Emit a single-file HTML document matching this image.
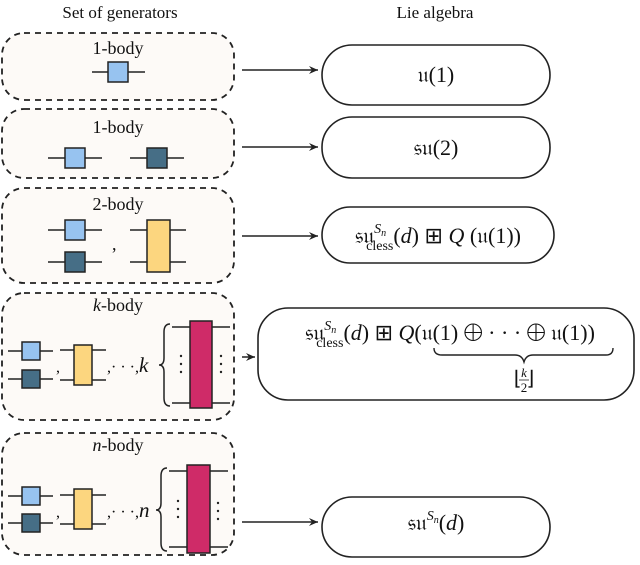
<!DOCTYPE html>
<html><head><style>body{margin:0;background:#fff}svg{display:block}text{font-family:"Liberation Serif",serif;fill:#111}</style></head><body>
<svg width="640" height="565" viewBox="0 0 640 565" xmlns="http://www.w3.org/2000/svg">
<defs><marker id="a" markerWidth="10" markerHeight="8" refX="9" refY="4" orient="auto" markerUnits="userSpaceOnUse"><path d="M0,0 L9,4 L0,8 L3,4z" fill="#222"/></marker></defs>
<text x="120" y="18" font-size="17" text-anchor="middle">Set of generators</text>
<text x="435" y="18" font-size="17" text-anchor="middle">Lie algebra</text>
<g fill="#fdfaf7" stroke="#222" stroke-width="1.8" stroke-dasharray="6,5">
<rect x="2" y="33" width="232" height="67" rx="22"/>
<rect x="2" y="109" width="232" height="69" rx="22"/>
<rect x="2" y="188" width="232" height="95" rx="22"/>
<rect x="2" y="293" width="232" height="127" rx="22"/>
<rect x="2" y="433" width="232" height="122" rx="22"/>
</g>
<g font-size="18" text-anchor="middle">
<text x="118" y="54">1-body</text><text x="118" y="133">1-body</text><text x="118" y="210">2-body</text>
<text x="118" y="311"><tspan font-style="italic">k</tspan>-body</text><text x="118" y="451"><tspan font-style="italic">n</tspan>-body</text>
</g>
<g stroke="#222" stroke-width="1.5">
<line x1="92" y1="72" x2="145" y2="72"/>
<line x1="48" y1="158" x2="102" y2="158"/><line x1="130" y1="158" x2="184" y2="158"/>
<line x1="48" y1="230" x2="102" y2="230"/><line x1="48" y1="262" x2="102" y2="262"/>
<line x1="130" y1="230" x2="186" y2="230"/><line x1="130" y1="262" x2="186" y2="262"/>
<line x1="8" y1="351" x2="53" y2="351"/><line x1="8" y1="379" x2="53" y2="379"/>
<line x1="60" y1="350" x2="106" y2="350"/><line x1="60" y1="380" x2="106" y2="380"/>
<line x1="172" y1="327" x2="230" y2="327"/><line x1="172" y1="403" x2="230" y2="403"/>
<line x1="8" y1="496" x2="53" y2="496"/><line x1="8" y1="523" x2="53" y2="523"/>
<line x1="60" y1="495" x2="106" y2="495"/><line x1="60" y1="524" x2="106" y2="524"/>
<line x1="169" y1="471" x2="228" y2="471"/><line x1="169" y1="547" x2="228" y2="547"/>
</g>
<g stroke="#222" stroke-width="1.5">
<rect x="108" y="62" width="20" height="20" fill="#97c3f0"/>
<rect x="65" y="148" width="20" height="20" fill="#97c3f0"/><rect x="147" y="148" width="20" height="20" fill="#466e86"/>
<rect x="65" y="220" width="20" height="20" fill="#97c3f0"/><rect x="65" y="252" width="20" height="20" fill="#466e86"/>
<rect x="147" y="220" width="23" height="52" fill="#fcd67f"/>
<rect x="22" y="342" width="18" height="18" fill="#97c3f0"/><rect x="22" y="370" width="18" height="18" fill="#466e86"/>
<rect x="74" y="345" width="18" height="40" fill="#fcd67f"/>
<rect x="190" y="321" width="22" height="87" fill="#cf2b68"/>
<rect x="22" y="487" width="18" height="18" fill="#97c3f0"/><rect x="22" y="514" width="18" height="18" fill="#466e86"/>
<rect x="74" y="489" width="18" height="40" fill="#fcd67f"/>
<rect x="187" y="465" width="23" height="88" fill="#cf2b68"/>
</g>
<g font-size="18"><text x="112" y="250">,</text>
<text x="56" y="372" font-size="16">,</text><text x="107" y="372" font-size="16">,· · ·,<tspan font-style="italic" font-size="21">k</tspan></text>
<text x="56" y="517" font-size="16">,</text><text x="107" y="517" font-size="16">,· · ·,<tspan font-style="italic" font-size="21">n</tspan></text></g>
<g fill="none" stroke="#222" stroke-width="1.5">
<path d="M170,324 Q164,324 164,332 L164,358 Q164,365 159,365 Q164,365 164,372 L164,398 Q164,406 170,406"/>
<path d="M167,468 Q161,468 161,476 L161,503 Q161,510 156,510 Q161,510 161,517 L161,543 Q161,551 167,551"/>
</g>
<g fill="#222"><circle cx="181" cy="356" r="1.2"/><circle cx="181" cy="364" r="1.2"/><circle cx="181" cy="372" r="1.2"/>
<circle cx="221" cy="356" r="1.2"/><circle cx="221" cy="364" r="1.2"/><circle cx="221" cy="372" r="1.2"/>
<circle cx="178" cy="501" r="1.2"/><circle cx="178" cy="509" r="1.2"/><circle cx="178" cy="517" r="1.2"/>
<circle cx="218" cy="503" r="1.2"/><circle cx="218" cy="511" r="1.2"/><circle cx="218" cy="519" r="1.2"/></g>
<g stroke="#222" stroke-width="1.5" marker-end="url(#a)">
<line x1="242" y1="70" x2="318" y2="70"/><line x1="242" y1="147" x2="318" y2="147"/>
<line x1="242" y1="236" x2="318" y2="236"/><line x1="242" y1="357" x2="255" y2="357"/>
<line x1="242" y1="522" x2="318" y2="522"/>
</g>
<g fill="#fff" stroke="#222" stroke-width="1.6">
<rect x="322" y="45" width="228" height="60" rx="30"/>
<rect x="322" y="117" width="228" height="61" rx="30"/>
<rect x="322" y="207" width="232" height="56" rx="28"/>
<rect x="258" y="308" width="376" height="92" rx="30"/>
<rect x="322" y="497" width="228" height="60" rx="30"/>
</g>
<g font-size="22" text-anchor="middle">
<text x="436" y="82">𝔲(1)</text>
<text x="436" y="155">𝔰𝔲(2)</text>
<text x="438" y="243">𝔰𝔲<tspan font-size="14" dy="-10" font-style="italic">S<tspan font-size="10" dy="3">n</tspan></tspan><tspan font-size="14" dx="-20" dy="14">cless</tspan><tspan dy="-7">(<tspan font-style="italic">d</tspan>) ⊞ <tspan font-style="italic">Q</tspan> (𝔲(1))</tspan></text>
<text x="450" y="340">𝔰𝔲<tspan font-size="14" dy="-10" font-style="italic">S<tspan font-size="10" dy="3">n</tspan></tspan><tspan font-size="14" dx="-20" dy="14">cless</tspan><tspan dy="-7">(<tspan font-style="italic">d</tspan>) ⊞ <tspan font-style="italic">Q</tspan>(𝔲(1) ⨁ · · · ⨁ 𝔲(1))</tspan></text>
<text x="436" y="530">𝔰𝔲<tspan font-size="14" dy="-10" font-style="italic">S<tspan font-size="10" dy="3">n</tspan></tspan><tspan dy="7">(<tspan font-style="italic">d</tspan>)</tspan></text>
</g>
<path d="M434,348 Q434,355 442,355 L515,355 Q522,355 524,362 Q526,355 533,355 L606,355 Q613,355 613,348" fill="none" stroke="#222" stroke-width="1.4"/>
<text x="524" y="385" font-size="20" text-anchor="middle">⌊  ⌋</text>
<text x="524" y="377" font-size="13" font-style="italic" text-anchor="middle">k</text>
<line x1="519" y1="380" x2="529" y2="380" stroke="#222" stroke-width="0.8"/>
<text x="524" y="392" font-size="13" text-anchor="middle">2</text>
</svg>
</body></html>
